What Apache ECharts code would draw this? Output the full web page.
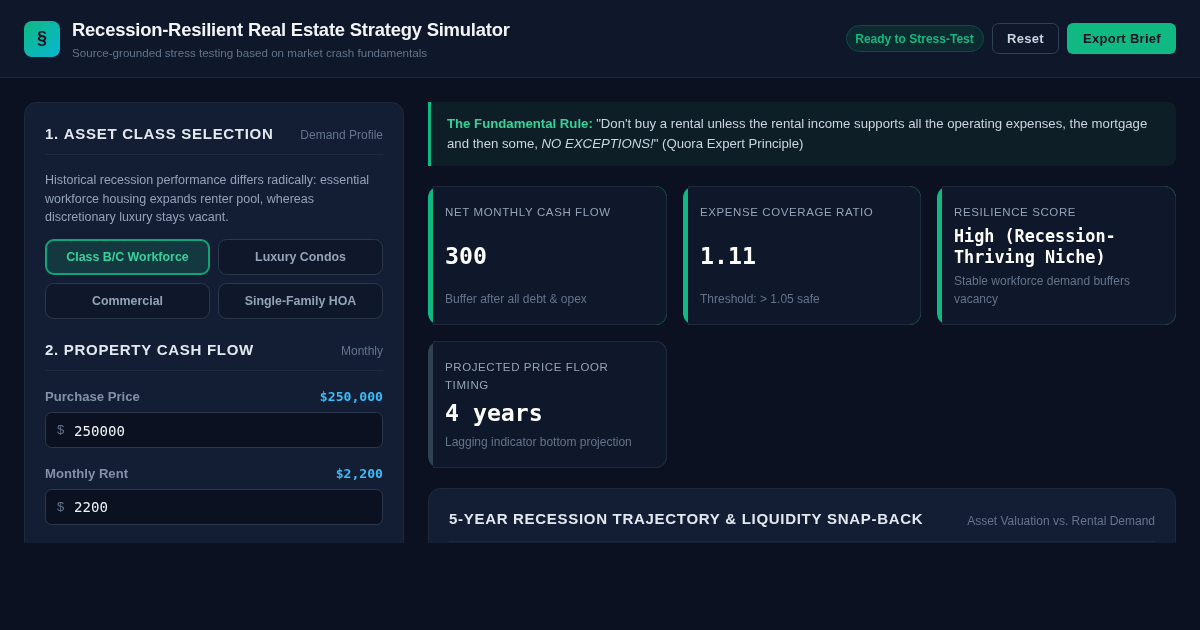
<!doctype html>
<html>
<head>
    <meta charset="UTF-8">
    <title>Recession-Resilient Real Estate Strategy Simulator</title>
    <script src="https://cdn.jsdelivr.net/npm/echarts@6/dist/echarts.min.js"></script>
    <style>
        html, body { margin: 0; background: #0b1120; }
        #main { width: 1200px; height: 630px; }
    </style>
</head>
<body>
<div id="main"></div>
<script type="text/javascript">
    var appTitle = 'Recession-Resilient Real Estate Strategy Simulator';
    var appSubtitle = 'Source-grounded stress testing based on market crash fundamentals';
    var statusText = 'Ready to Stress-Test';
    var actionLabels = ['Reset', 'Export Brief'];

    var sectionTitles = ['1. ASSET CLASS SELECTION', '2. PROPERTY CASH FLOW', '5-YEAR RECESSION TRAJECTORY & LIQUIDITY SNAP-BACK'];
    var sectionHints = ['Demand Profile', 'Monthly', 'Asset Valuation vs. Rental Demand'];
    var introLines = [
        'Historical recession performance differs radically: essential',
        'workforce housing expands renter pool, whereas',
        'discretionary luxury stays vacant.'
    ];
    var assetClasses = ['Class B/C Workforce', 'Luxury Condos', 'Commercial', 'Single-Family HOA'];

    var inputLabels = ['Purchase Price', 'Monthly Rent'];
    var inputValues = ['250000', '2200'];
    var inputDisplay = ['$250,000', '$2,200'];

    var kpiTitles = [['NET MONTHLY CASH FLOW'], ['EXPENSE COVERAGE RATIO'], ['RESILIENCE SCORE'], ['PROJECTED PRICE FLOOR', 'TIMING']];
    var kpiValues = [['300'], ['1.11'], ['High (Recession-', 'Thriving Niche)'], ['4 years']];
    var kpiNotes = [['Buffer after all debt & opex'], ['Threshold: > 1.05 safe'], ['Stable workforce demand buffers', 'vacancy'], ['Lagging indicator bottom projection']];

    var SANS = '"Liberation Sans", Arial, sans-serif';
    var MONO = '"DejaVu Sans Mono", monospace';

    // echarts has no letter spacing for text, so set it on the context per string
    var spacing = {};
    var rawFillText = CanvasRenderingContext2D.prototype.fillText;
    CanvasRenderingContext2D.prototype.fillText = function (t, x, y) {
        this.letterSpacing = spacing[t] || '0px';
        rawFillText.call(this, t, x, y);
    };

    var els = [];

    function box(x, y, w, h, r, fill, stroke, lineWidth) {
        els.push({
            type: 'rect',
            shape: {x: x, y: y, width: w, height: h, r: r},
            style: {fill: fill, stroke: stroke || null, lineWidth: lineWidth || 0}
        });
    }

    function label(text, x, y, font, color, align) {
        els.push({
            type: 'text',
            x: x,
            y: y + 1,
            style: {text: text, font: font, fill: color, align: align || 'left', verticalAlign: 'middle'}
        });
    }

    function section(i, x1, x2, yTitle, yHint, yLine) {
        spacing[sectionTitles[i]] = '0.7px';
        label(sectionTitles[i], x1, yTitle, 'bold 15px ' + SANS, '#e2e8f0');
        label(sectionHints[i], x2, yHint, '12px ' + SANS, '#64748b', 'right');
        box(x1, yLine, x2 - x1, 1, 0, '#1e293b');
    }

    function kpiCard(i, x, y, w, h, accent, yTitle, yValue, yNote, valueSize) {
        box(x, y, w, h, 12, accent);
        box(x + 5, y, w - 5, h, [0, 12, 12, 0], '#1e293b');
        box(x + 5, y + 1, w - 6, h - 2, [3, 11, 11, 3], '#0f172a');
        kpiTitles[i].forEach(function (t, k) {
            spacing[t] = '0.6px';
            label(t, x + 17, yTitle + k * 18, '11.5px ' + SANS, '#94a3b8');
        });
        kpiValues[i].forEach(function (t, k) {
            label(t, x + 17, yValue + k * 21, 'bold ' + valueSize + 'px ' + MONO, '#ffffff');
        });
        kpiNotes[i].forEach(function (t, k) {
            label(t, x + 17, yNote + k * 18, '12px ' + SANS, '#64748b');
        });
    }

    // top bar
    box(0, 0, 1200, 77, 0, '#0f172a');
    box(0, 77, 1200, 1, 0, '#1e293b');
    box(24, 21, 36, 36, 8, new echarts.graphic.LinearGradient(0, 0, 1, 1, [
        {offset: 0, color: '#10b981'},
        {offset: 1, color: '#06b6d4'}
    ]));
    label('§', 42, 38.5, 'bold 18px ' + SANS, '#0b1120', 'center');
    spacing[appTitle] = '-0.2px';
    label(appTitle, 72, 29.5, 'bold 18.4px ' + SANS, '#f1f5f9');
    label(appSubtitle, 72, 53, '11.6px ' + SANS, '#64748b');

    box(846.5, 25.5, 137, 26, 13, '#0d2a30', '#124a48', 1);
    label(statusText, 914.5, 39, 'bold 12px ' + SANS, '#10b981', 'center');
    box(992.5, 23.5, 66, 30, 6, '#0f172a', '#334155', 1);
    spacing[actionLabels[0]] = '0.3px';
    spacing[actionLabels[1]] = '0.3px';
    label(actionLabels[0], 1007, 38.5, 'bold 13px ' + SANS, '#cbd5e1');
    box(1067, 23, 109, 31, 6, '#10b981');
    label(actionLabels[1], 1083, 38.5, 'bold 13px ' + SANS, '#0b1120');

    // left panel
    box(24.5, 102.5, 379, 520, 12, '#131e35', '#1e293b', 1);
    section(0, 45, 383, 134, 135, 154);
    introLines.forEach(function (t, k) {
        label(t, 45, [180, 198.5, 217][k], '12.48px ' + SANS, '#94a3b8');
    });
    assetClasses.forEach(function (t, i) {
        var x = i % 2 ? 218 : 45;
        var y = i < 2 ? 239 : 283;
        if (i === 0) {
            box(x + 1, y + 1, 163, 34, 8, '#143840', '#0fa47a', 2);
        } else {
            box(x + 0.5, y + 0.5, 164, 35, 8, '#0f172a', '#2b384c', 1);
        }
        label(t, x + 82.5, y + 18, 'bold 12.4px ' + SANS, i === 0 ? '#34d399' : '#94a3b8', 'center');
    });
    section(1, 45, 383, 350, 351, 370);
    inputLabels.forEach(function (t, i) {
        var y = i ? 489 : 412;
        label(t, 45, y - 16, 'bold 13.12px ' + SANS, '#8291a8');
        label(inputDisplay[i], 383, y - 15, 'bold 13.12px ' + MONO, '#38bdf8', 'right');
        box(45.5, y + 0.5, 337, 35, 6, '#0b1120', '#2b384c', 1);
        label('$', 57, y + 17, '13px ' + SANS, '#64748b');
        label(inputValues[i], 74, y + (i ? 18 : 19), '14.1px ' + MONO, '#f1f5f9');
    });

    // rule banner
    box(428, 102, 748, 64, [0, 8, 8, 0], '#0d1e26');
    box(428, 102, 3, 64, 0, '#10b981');
    els.push({
        type: 'text',
        x: 447,
        y: 124,
        style: {
            text: '{b|The Fundamental Rule:} {n|"Don\'t buy a rental unless the rental income supports all the operating expenses, the mortgage}',
            verticalAlign: 'middle',
            rich: {
                b: {font: 'bold 13.2px ' + SANS, fill: '#34d399'},
                n: {font: '13.2px ' + SANS, fill: '#cbd5e1'}
            }
        }
    });
    els.push({
        type: 'text',
        x: 447,
        y: 144,
        style: {
            text: '{n|and then some, }{i|NO EXCEPTIONS!}{n|" (Quora Expert Principle)}',
            verticalAlign: 'middle',
            rich: {
                i: {font: 'italic 13.2px ' + SANS, fill: '#cbd5e1'},
                n: {font: '13.2px ' + SANS, fill: '#cbd5e1'}
            }
        }
    });

    // kpi cards
    kpiCard(0, 428, 186, 239, 139, '#10b981', 212, 257, 299, 23.2);
    kpiCard(1, 683, 186, 238, 139, '#10b981', 212, 257, 299, 23.2);
    kpiCard(2, 937, 186, 239, 139, '#10b981', 212, 237, 281, 16.8);
    kpiCard(3, 428, 341, 239, 127, '#334155', 367, 414, 442, 23.2);

    // trajectory panel, cut off by the fold
    box(428.5, 488.5, 747, 120, 12, '#131e35', '#1e293b', 1);
    section(2, 449, 1155, 519, 521, 541);

    // page is cut off here
    box(0, 543, 1200, 87, 0, '#0b1120');

    var myChart = echarts.init(document.getElementById('main'), null, {renderer: 'canvas'});
    var option = {
        backgroundColor: '#0b1120',
        animation: false,
        graphic: {elements: els}
    };
    myChart.setOption(option);
</script>
</body>
</html>
